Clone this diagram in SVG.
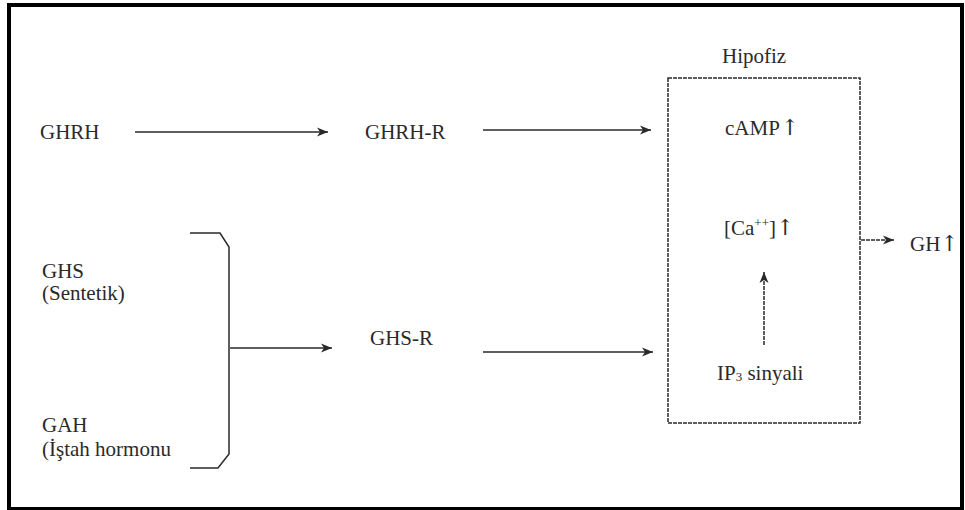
<svg xmlns="http://www.w3.org/2000/svg" width="965" height="510" viewBox="0 0 965 510">
<style>
.t{font-family:"Liberation Serif","Times New Roman",serif;font-size:21px;fill:#2a2a2a}
.a{font-family:"DejaVu Serif","DejaVu Sans",serif;font-size:22px;fill:#2a2a2a}
.c{fill:none;stroke:#2a2a2a;stroke-width:1.5}
.d{stroke-dasharray:4 1}
</style>
<defs>
<marker id="ah" markerWidth="12" markerHeight="10" refX="11" refY="5" orient="auto" markerUnits="userSpaceOnUse">
<path d="M0,0.5 L11,5 L0,9.5 L3,5 Z" fill="#2a2a2a"/>
</marker>
</defs>
<rect x="0" y="0" width="965" height="510" fill="#fff"/>
<rect id="frame" x="9" y="5" width="953" height="504" fill="none" stroke="#000" stroke-width="4"/>

<g id="ghrh"><text class="t" x="40" y="139">GHRH</text></g>
<g id="ghrh-r"><text class="t" x="365" y="139">GHRH-R</text></g>
<g id="ghs"><text class="t" x="42" y="278">GHS</text><text class="t" x="42" y="300">(Sentetik)</text></g>
<g id="gah"><text class="t" x="42" y="432">GAH</text><text class="t" x="42" y="456">(İştah hormonu</text></g>
<g id="ghs-r"><text class="t" x="370" y="345">GHS-R</text></g>
<g id="hipofiz">
<text class="t" x="722" y="63">Hipofiz</text>
<rect class="c d" x="668" y="78" width="192" height="345"/>
<text class="t" x="725" y="135">cAMP<tspan class="a" dx="1">↑</tspan></text>
<text class="t" x="724" y="235">[Ca<tspan font-size="13" dy="-8">++</tspan><tspan dy="8">]</tspan><tspan class="a">↑</tspan></text>
<text class="t" x="717" y="380">IP<tspan font-size="13" dy="1">3</tspan><tspan dy="-1"> sinyali</tspan></text>
</g>
<g id="gh"><text class="t" x="910" y="251">GH<tspan class="a">↑</tspan></text></g>

<g id="connectors">
<line class="c" x1="135" y1="132" x2="328" y2="132" marker-end="url(#ah)"/>
<line class="c" x1="483" y1="130" x2="651" y2="130" marker-end="url(#ah)"/>
<path class="c" d="M190,233 L220,233 L229,247 L229,454 L218,468 L190,468"/>
<line class="c" x1="230" y1="348" x2="332" y2="348" marker-end="url(#ah)"/>
<line class="c" x1="483" y1="352" x2="653" y2="352" marker-end="url(#ah)"/>
<line class="c d" x1="764" y1="345" x2="764" y2="272" marker-end="url(#ah)"/>
<line class="c d" x1="861" y1="240" x2="894" y2="240" marker-end="url(#ah)"/>
</g>
</svg>
